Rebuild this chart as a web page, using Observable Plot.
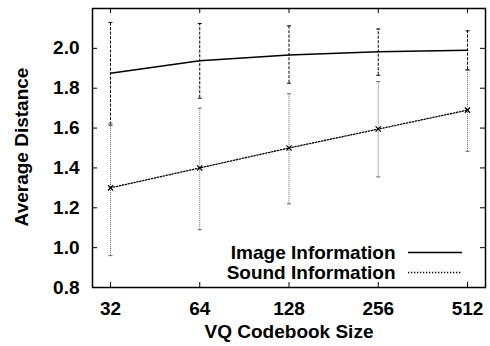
<!DOCTYPE html>
<html>
<head>
<meta charset="utf-8">
<script src="https://cdn.jsdelivr.net/npm/d3@7"></script>
<script src="https://cdn.jsdelivr.net/npm/@observablehq/plot@0.6"></script>
<style>
html,body{margin:0;padding:0;background:#fff;}
svg{display:block;}
</style>
</head>
<body>
<div id="chart"></div>
<script>
const sizes = [32, 64, 128, 256, 512];
const imageMean = [1.875, 1.938, 1.967, 1.983, 1.990];
const imageLow  = [1.615, 1.750, 1.825, 1.865, 1.893];
const imageHigh = [2.130, 2.125, 2.113, 2.097, 2.088];
const soundMean = [1.300, 1.400, 1.500, 1.595, 1.690];
const soundLow  = [0.960, 1.090, 1.220, 1.355, 1.483];
const soundHigh = [1.625, 1.700, 1.772, 1.833, 1.890];
const yTicks = [0.8, 1.0, 1.2, 1.4, 1.6, 1.8, 2.0];
const seriesNames = ["Image Information", "Sound Information"];
const xLabel = "VQ Codebook Size";
const yLabel = "Average Distance";

const image = sizes.map((s, i) => ({size: s, mean: imageMean[i], low: imageLow[i], high: imageHigh[i]}));
const sound = sizes.map((s, i) => ({size: s, mean: soundMean[i], low: soundLow[i], high: soundHigh[i]}));

const W = 490, H = 346, mL = 92, mR = 5, mT = 8, mB = 59;
const pw = W - mL - mR, ph = H - mT - mB;
const font = "Liberation Sans, Arial, Helvetica, sans-serif";
const fs = 19;
const cap = {draw(ctx, size) { const r = Math.sqrt(size / Math.PI); ctx.moveTo(-r, 0); ctx.lineTo(r, 0); }};

const chart = Plot.plot({
  width: W, height: H,
  marginLeft: mL, marginRight: mR, marginTop: mT, marginBottom: mB,
  style: {fontFamily: font, background: "#fff"},
  x: {type: "log", base: 2, domain: [32 * 2 ** -0.2016, 512 * 2 ** 0.2016]},
  y: {domain: [0.8, 2.2]},
  marks: [
    // error bars
    Plot.ruleX(image, {x: "size", y1: "low", y2: "high", stroke: "#000", strokeWidth: 1, strokeDasharray: "3,1.5"}),
    Plot.dot(image, {x: "size", y: "low", symbol: cap, r: 2, stroke: "#000", strokeWidth: 1}),
    Plot.dot(image, {x: "size", y: "high", symbol: cap, r: 2, stroke: "#000", strokeWidth: 1}),
    Plot.ruleX(sound, {x: "size", y1: "low", y2: "high", stroke: "#666", strokeWidth: 1, strokeDasharray: "1,1"}),
    Plot.dot(sound, {x: "size", y: "low", symbol: cap, r: 2, stroke: "#666", strokeWidth: 1}),
    Plot.dot(sound, {x: "size", y: "high", symbol: cap, r: 2, stroke: "#666", strokeWidth: 1}),
    // lines
    Plot.line(image, {x: "size", y: "mean", stroke: "#000", strokeWidth: 1.5}),
    Plot.line(sound, {x: "size", y: "mean", stroke: "#000", strokeWidth: 1.3, strokeDasharray: "1.3,1.7"}),
    Plot.dot(sound, {x: "size", y: "mean", symbol: "times", r: 2.5, stroke: "#000", strokeWidth: 1.2}),
    // inward ticks
    Plot.tickY(yTicks.slice(1), {y: d => d, insetRight: pw - 5, stroke: "#000", strokeWidth: 1}),
    Plot.tickY(yTicks.slice(1), {y: d => d, insetLeft: pw - 5, stroke: "#000", strokeWidth: 1}),
    Plot.tickX(sizes, {x: d => d, insetBottom: ph - 5, stroke: "#000", strokeWidth: 1}),
    Plot.tickX(sizes, {x: d => d, insetTop: ph - 5, stroke: "#000", strokeWidth: 1}),
    // axes labels
    Plot.axisY({ticks: yTicks, tickSize: 0, tickPadding: 13, tickFormat: d3.format(".1f"), fontSize: fs, fontWeight: "bold", label: null, fill: "#000"}),
    Plot.axisX({ticks: sizes, tickSize: 0, tickPadding: 14, tickFormat: d => String(d), fontSize: fs, fontWeight: "bold", label: null, fill: "#000"}),
    Plot.text([yLabel], {text: d => d, frameAnchor: "left", textAnchor: "middle", rotate: -90, dx: -71, dy: -1, fontSize: fs, fontWeight: "bold", fill: "#000"}),
    Plot.text([xLabel], {text: d => d, frameAnchor: "bottom", textAnchor: "middle", dy: 50, fontSize: fs, fontWeight: "bold", fill: "#000"}),
    // legend
    Plot.text([seriesNames[0]], {text: d => d, frameAnchor: "bottom-right", dx: -90, dy: -35, textAnchor: "end", lineAnchor: "middle", fontSize: fs, fontWeight: "bold", fill: "#000"}),
    Plot.text([seriesNames[1]], {text: d => d, frameAnchor: "bottom-right", dx: -90, dy: -15, textAnchor: "end", lineAnchor: "middle", fontSize: fs, fontWeight: "bold", fill: "#000"}),
    Plot.tickY([0.8], {y: d => d, dy: -35, insetLeft: 316, insetRight: 23, stroke: "#000", strokeWidth: 1.5}),
    Plot.tickY([0.8], {y: d => d, dy: -15, insetLeft: 316, insetRight: 23, stroke: "#000", strokeWidth: 1.3, strokeDasharray: "1.3,1.7"}),
    Plot.frame({stroke: "#000", strokeWidth: 1.5})
  ]
});
document.getElementById("chart").appendChild(chart);
</script>
</body>
</html>
